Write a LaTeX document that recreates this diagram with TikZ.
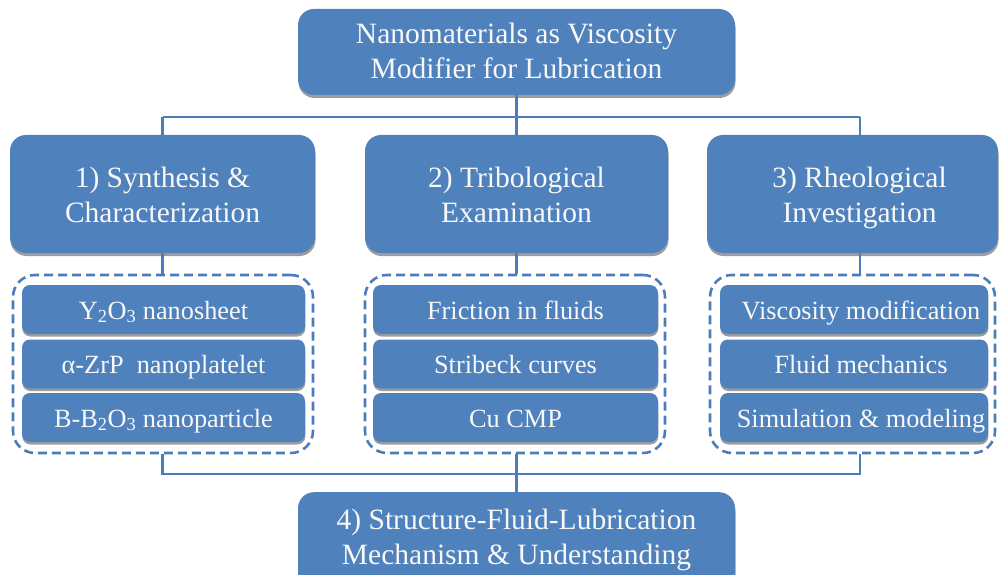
\documentclass[tikz,border=0pt]{standalone}
\usepackage{fontspec}
\setmainfont{Liberation Serif}
\usetikzlibrary{shadows}
\definecolor{boxblue}{RGB}{79,129,189}
\definecolor{lineblue}{RGB}{76,124,185}
\definecolor{txt}{RGB}{248,248,248}
\newcommand{\shr}{\hspace*{14pt}}
\newcommand{\lowered}[2]{\raisebox{-#1}[\height][\depth]{\begin{tabular}{@{}c@{}}#2\end{tabular}}}
\tikzset{
  x=1pt, y=1pt,
  bigbox/.style={fill=boxblue, draw=none, rounded corners=16pt, text=txt, align=center,
    font=\fontsize{29.5}{35}\selectfont, inner sep=0pt,
    drop shadow={shadow xshift=0.5pt, shadow yshift=-3pt, opacity=0.55, fill=black!70}},
  itembox/.style={fill=boxblue, draw=none, rounded corners=8pt, text=txt, align=center,
    font=\fontsize{26.3}{30}\selectfont, inner sep=0pt,
    text height=21pt, text depth=2pt,
    drop shadow={shadow xshift=0.3pt, shadow yshift=-2.5pt, opacity=0.55, fill=black!70}},
  dashbox/.style={draw=lineblue, line width=2.6pt, dash pattern=on 9pt off 5pt, rounded corners=22pt, inner sep=0pt},
  conn/.style={draw=lineblue, line width=2.6pt}
}
\begin{document}
\begin{tikzpicture}
\useasboundingbox (0,0) rectangle (1000,574);
\clip (0,0) rectangle (1000,574);
% top
\node[bigbox, minimum width=437pt, minimum height=86pt] (top) at (516.5,522) {\lowered{2.5pt}{Nanomaterials as Viscosity\\Modifier for Lubrication}};
% level 2
\node[bigbox, minimum width=305pt, minimum height=118pt] (b1) at (162.5,380) {\lowered{3.5pt}{1) Synthesis \&\\Characterization}};
\node[bigbox, minimum width=303pt, minimum height=118pt] (b2) at (516.5,380) {\lowered{3.5pt}{2) Tribological\\Examination}};
\node[bigbox, minimum width=291pt, minimum height=118pt] (b3) at (852.5,380) {\lowered{3.5pt}{\shr 3) Rheological\\\shr Investigation}};
% dashed groups
\node[dashbox, minimum width=300pt, minimum height=178pt] (d1) at (163,210) {};
\node[dashbox, minimum width=300pt, minimum height=178pt] (d2) at (515,210) {};
\node[dashbox, minimum width=285pt, minimum height=178pt] (d3) at (852.5,210) {};
% items column 1
\node[itembox, minimum width=283pt, minimum height=49pt] (i11) at (163.5,264.5) {Y\textsubscript{2}O\textsubscript{3} nanosheet};
\node[itembox, minimum width=283pt, minimum height=49pt] (i12) at (163.5,210) {α-ZrP\ \ nanoplatelet};
\node[itembox, minimum width=283pt, minimum height=49pt] (i13) at (163.5,156.5) {B-B\textsubscript{2}O\textsubscript{3} nanoparticle};
% items column 2
\node[itembox, minimum width=285pt, minimum height=49pt] (i21) at (515.5,264.5) {Friction in fluids};
\node[itembox, minimum width=285pt, minimum height=49pt] (i22) at (515.5,210) {Stribeck curves};
\node[itembox, minimum width=285pt, minimum height=49pt] (i23) at (515.5,156.5) {Cu CMP};
% items column 3
\node[itembox, minimum width=268pt, minimum height=49pt] (i31) at (854,264.5) {\shr Viscosity modification};
\node[itembox, minimum width=268pt, minimum height=49pt] (i32) at (854,210) {\shr Fluid mechanics};
\node[itembox, minimum width=268pt, minimum height=49pt] (i33) at (854,156.5) {\shr Simulation \& modeling};
% bottom
\node[bigbox, minimum width=437pt, minimum height=96pt, anchor=north] (bot) at (516.5,82) {4) Structure-Fluid-Lubrication\\Mechanism \& Understanding};
% connectors top
\coordinate (j1) at (162.5,457);
\coordinate (j3) at (860,457);
\draw[conn] (j1) -- (j3);
\draw[conn] (top.south) -- (top.south |- j1);
\draw[conn] (j1) -- (j1 |- b1.north);
\draw[conn] (b2.north) -- (b2.north |- j1);
\draw[conn] (j3) -- (j3 |- b3.north);
% level2 to dashed
\coordinate (k1) at (162.5,321);
\coordinate (k3) at (860,321);
\draw[conn] (k1) -- (k1 |- d1.north);
\draw[conn] (b2.south) -- (b2.south |- d2.north);
\draw[conn] (k3) -- (k3 |- d3.north);
% bottom connectors
\coordinate (m1) at (162.5,100);
\coordinate (m3) at (860,100);
\draw[conn] (m1 |- d1.south) -- (m1) -- (m3) -- (m3 |- d3.south);
\draw[conn] (bot.north |- d2.south) -- (bot.north);
\end{tikzpicture}
\end{document}
